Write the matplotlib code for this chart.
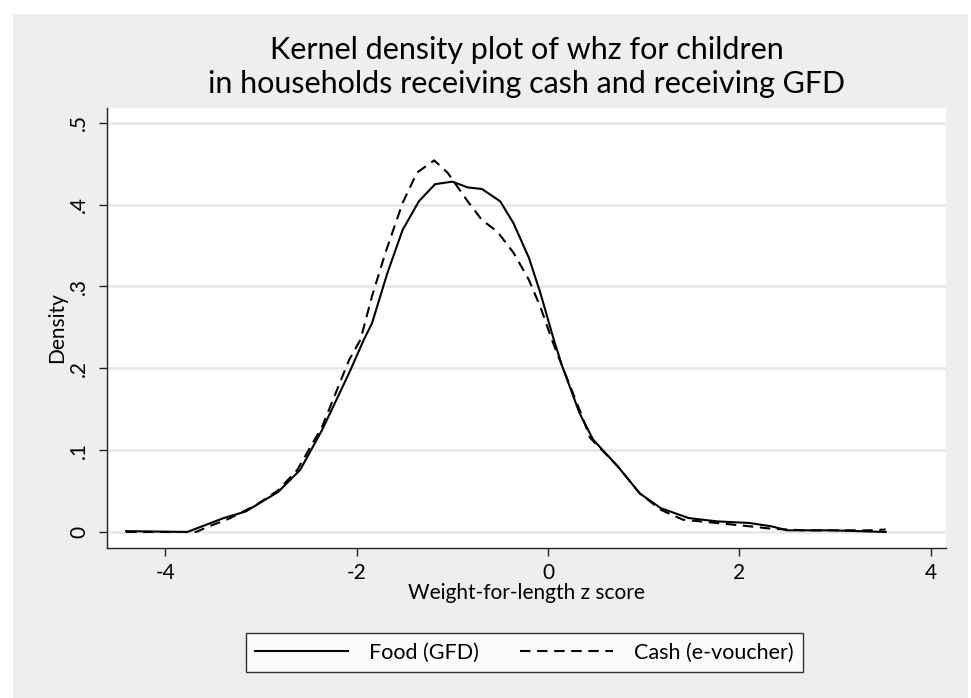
import matplotlib
matplotlib.use("Agg")
import matplotlib.pyplot as plt
from matplotlib.patches import Rectangle

plt.rcParams['font.family'] = ['Lato', 'DejaVu Sans']

# Food (GFD) kernel density (solid)
food_x = [-4.41, -3.77, -3.39, -3.16, -2.82, -2.59, -2.36, -2.08, -1.925, -1.84,
          -1.68, -1.52, -1.35, -1.18, -1.00, -0.84, -0.69, -0.50, -0.36, -0.20,
          -0.08, 0.06, 0.15, 0.33, 0.47, 0.73, 0.96, 1.18, 1.47, 1.76,
          2.10, 2.33, 2.50, 2.96, 3.53]
food_y = [0.001, 0.000, 0.017, 0.025, 0.049, 0.076, 0.125, 0.194, 0.235, 0.255,
          0.316, 0.369, 0.404, 0.425, 0.428, 0.421, 0.419, 0.404, 0.377, 0.335,
          0.292, 0.235, 0.202, 0.145, 0.113, 0.080, 0.047, 0.029, 0.017, 0.013,
          0.011, 0.007, 0.002, 0.002, 0.000]

# Cash (e-voucher) kernel density (dashed)
cash_x = [-4.41, -3.68, -3.54, -3.34, -3.05, -2.82, -2.62, -2.36, -2.08, -1.96,
          -1.84, -1.70, -1.52, -1.37, -1.19, -1.05, -0.84, -0.69, -0.53, -0.36,
          -0.20, -0.08, 0.04, 0.15, 0.33, 0.44, 0.73, 0.96, 1.18, 1.41,
          1.76, 2.10, 2.33, 2.67, 3.36, 3.53]
cash_y = [0.000, 0.000, 0.007, 0.016, 0.033, 0.051, 0.076, 0.129, 0.210, 0.235,
          0.288, 0.341, 0.402, 0.439, 0.454, 0.439, 0.404, 0.381, 0.367, 0.341,
          0.308, 0.275, 0.235, 0.202, 0.149, 0.115, 0.080, 0.047, 0.027, 0.015,
          0.011, 0.007, 0.004, 0.002, 0.002, 0.003]

xticks = [-4, -2, 0, 2, 4]
xtick_labels = ['-4', '-2', '0', '2', '4']
yticks = [0, 0.1, 0.2, 0.3, 0.4, 0.5]
ytick_labels = ['0', '.1', '.2', '.3', '.4', '.5']

title = "Kernel density plot of whz for children\nin households receiving cash and receiving GFD"
xlabel = "Weight-for-length z score"
ylabel = "Density"
labels = ["Food (GFD)", "Cash (e-voucher)"]

W, H = 971, 698
fig = plt.figure(figsize=(W / 100, H / 100), dpi=100, facecolor='white')
fig.patches.append(Rectangle((13 / W, 0), (968 - 13) / W, (H - 14) / H,
                             transform=fig.transFigure, facecolor='#eeeeee',
                             edgecolor='none', zorder=-10))

ax = fig.add_axes([107 / W, (H - 548) / H, (946 - 107) / W, (548 - 108) / H])
ax.set_facecolor('white')

l1, = ax.plot(food_x, food_y, color='black', lw=1.5, solid_joinstyle='round')
l2, = ax.plot(cash_x, cash_y, color='black', lw=1.5, linestyle=(0, (5.0, 3.2)))

ax.set_xlim(-4.61, 4.16)
ax.set_ylim(-0.0196, 0.518)
ax.set_xticks(xticks)
ax.set_xticklabels(xtick_labels, fontsize=15)
ax.set_yticks(yticks)
ax.set_yticklabels(ytick_labels, fontsize=15, rotation=90, va='center')
ax.grid(axis='y', color='#e6e6e6', lw=1.8)
ax.set_axisbelow(True)
for s in ['top', 'right']:
    ax.spines[s].set_visible(False)
for s in ['left', 'bottom']:
    ax.spines[s].set_color('#222222')
    ax.spines[s].set_linewidth(1.0)
ax.tick_params(axis='both', direction='out', length=6, width=1, color='#222222', pad=5)
ax.tick_params(axis='y', pad=7)

ax.set_xlabel(xlabel, fontsize=15, labelpad=0)
ax.set_ylabel(ylabel, fontsize=15, labelpad=1)

fig.text(527 / W, 1 - 67 / H, title, ha='center', va='center', fontsize=22,
         linespacing=1.22)

leg = fig.legend([l1, l2], labels, loc='center', bbox_to_anchor=(524.5 / W, 1 - 652.5 / H),
                 ncol=2, frameon=True, fancybox=False, fontsize=15.5, handlelength=4.3,
                 columnspacing=1.9, handletextpad=1.0, borderpad=0.45)
leg.get_frame().set_edgecolor('black')
leg.get_frame().set_linewidth(1.0)
leg.get_frame().set_facecolor('white')

fig.savefig('out.png', dpi=100, facecolor=fig.get_facecolor())
